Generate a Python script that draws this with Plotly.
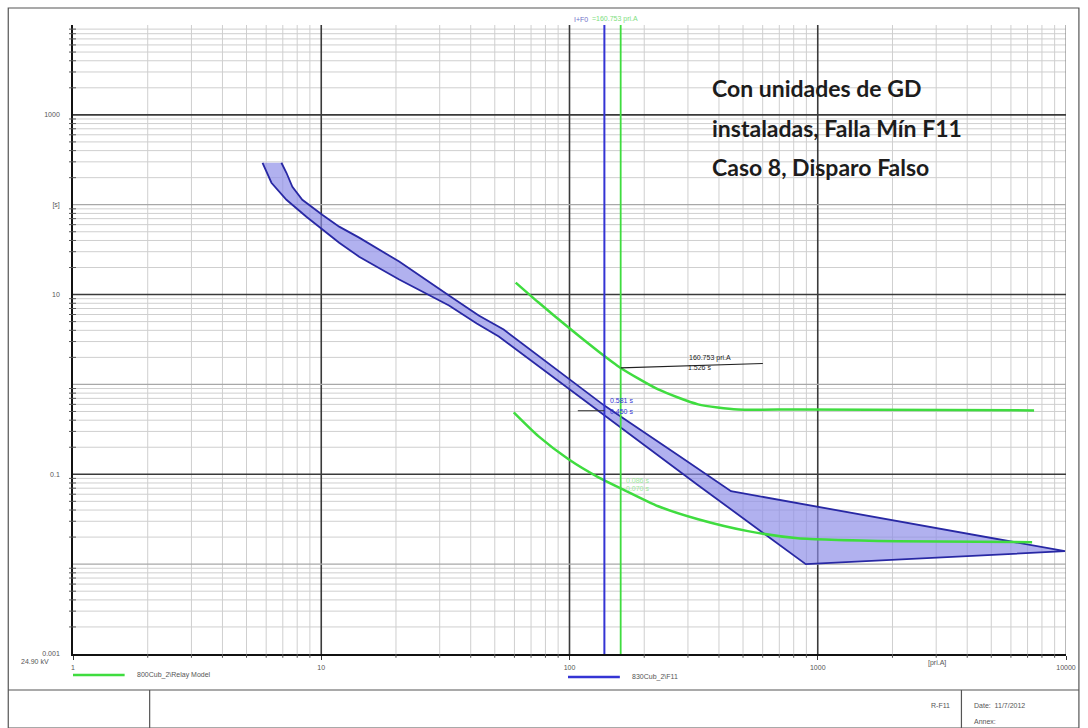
import math
import plotly.graph_objects as go

# ---- relay ZF11 operating band: current [pri.A] / time [s] ----
band_upper_i = [6.91, 7.24, 7.65, 8.39, 10.09, 11.81, 14.21, 20.6, 32.7, 43.1, 54.3, 90.3, 138.2, 274.0, 447.3, 9909.0]
band_upper_t = [292.9, 226.8, 158.5, 113.6, 77.4, 57.0, 43.0, 23.3, 9.75, 5.85, 4.08, 1.394, 0.581, 0.1626, 0.0648, 0.01394]
band_lower_i = [5.80, 6.30, 7.24, 8.71, 10.09, 11.81, 14.21, 20.6, 32.7, 42.3, 51.9, 90.3, 138.2, 329.6, 894.7, 9909.0]
band_lower_t = [292.9, 175.6, 113.6, 73.6, 52.8, 37.8, 26.4, 14.7, 7.55, 4.76, 3.41, 1.08, 0.450, 0.0755, 0.0100, 0.01394]

# ---- relay model curves (800Cub_2) ----
relay_hi_i = [60.7, 75.1, 99.1, 130.8, 160.753, 227.7, 329.6, 477.0, 831.0, 7437.0]
relay_hi_t = [13.6, 8.15, 4.30, 2.33, 1.526, 0.880, 0.600, 0.527, 0.527, 0.514]
relay_lo_i = [59.6, 75.1, 99.1, 130.8, 160.753, 227.7, 329.6, 523.5, 831.0, 2096.0, 7302.0]
relay_lo_t = [0.489, 0.264, 0.147, 0.0926, 0.0699, 0.0441, 0.0316, 0.0233, 0.01945, 0.0180, 0.01756]

# fault currents seen by each device
i_blue = 138.2
i_green = 160.753

# tripping times read at the fault currents
t_green_hi = 1.526
t_blue_hi = 0.581
t_blue_lo = 0.450
t_green_lo_blue = 0.086
t_green_lo = 0.070

# axis labels
x_tickvals = [1, 10, 100, 1000, 10000]
x_ticktext = ["1", "10", "100", "1000", "10000"]
y_tickvals = [0.001, 0.1, 10, 100, 1000]
y_ticktext = ["0.001", "0.1", "10", "[s]", "1000"]

BLUE = "#3434d4"
BLUE_EDGE = "#2828a4"
BAND_FILL = "rgba(140,140,232,0.68)"
GREEN = "#3fdc3f"
FONT = "Liberation Sans, Arial"
SMALL = dict(family=FONT, size=7, color="#555555")
L = math.log10  # annotations on log axes take log10 positions

fig = go.Figure()

# ---- grid ----
shapes = []
for d in range(0, 4):
    for k in range(2, 10):
        xv = k * 10 ** d
        shapes.append(dict(type="line", xref="x", yref="paper", x0=xv, x1=xv, y0=0, y1=1,
                           line=dict(color="#cfcfcf", width=1), layer="below"))
        shapes.append(dict(type="line", xref="x", yref="paper", x0=xv, x1=xv, y0=0, y1=-0.006,
                           line=dict(color="#555555", width=1)))
for d in range(-3, 4):
    for k in range(2, 10):
        yv = k * 10.0 ** d
        shapes.append(dict(type="line", xref="paper", yref="y", x0=0, x1=1, y0=yv, y1=yv,
                           line=dict(color="#cfcfcf", width=1), layer="below"))
        shapes.append(dict(type="line", xref="paper", yref="y", x0=-0.004, x1=0.003, y0=yv, y1=yv,
                           line=dict(color="#555555", width=1)))
for xv in [10, 100, 1000]:
    shapes.append(dict(type="line", xref="x", yref="paper", x0=xv, x1=xv, y0=0, y1=1,
                       line=dict(color="#3a3a3a", width=1.6), layer="below"))
shapes.append(dict(type="line", xref="x", yref="paper", x0=10000, x1=10000, y0=0, y1=1,
                   line=dict(color="#8a8a8a", width=1.2), layer="below"))
for yv in [1000, 10, 0.1]:
    shapes.append(dict(type="line", xref="paper", yref="y", x0=0, x1=1, y0=yv, y1=yv,
                       line=dict(color="#3a3a3a", width=1.6), layer="below"))
for yv in [100, 1, 0.01]:
    shapes.append(dict(type="line", xref="paper", yref="y", x0=0, x1=1, y0=yv, y1=yv,
                       line=dict(color="#a8a8a8", width=1.2), layer="below"))

# ---- page frame and title block ----
frame = dict(color="#555555", width=1.2)
shapes += [
    dict(type="rect", xref="paper", yref="paper", x0=-0.0652, x1=1.013, y0=-0.118, y1=1.027, line=frame),
    dict(type="line", xref="paper", yref="paper", x0=-0.0652, x1=1.013, y0=-0.0572, y1=-0.0572, line=frame),
    dict(type="line", xref="paper", yref="paper", x0=0.0772, x1=0.0772, y0=-0.0572, y1=-0.118, line=frame),
    dict(type="line", xref="paper", yref="paper", x0=0.8947, x1=0.8947, y0=-0.0572, y1=-0.118, line=frame),
]

# ---- legend marks ----
shapes += [
    dict(type="line", xref="paper", yref="paper", x0=0.0, x1=0.052, y0=-0.0334, y1=-0.0334,
         line=dict(color=GREEN, width=2.5)),
    dict(type="line", xref="paper", yref="paper", x0=0.4985, x1=0.5507, y0=-0.0366, y1=-0.0366,
         line=dict(color=BLUE, width=2.5)),
]

# ---- pointer lines for the read-outs ----
shapes += [
    dict(type="line", xref="x", yref="y", x0=i_green, x1=601, y0=t_green_hi, y1=1.71,
         line=dict(color="#222222", width=1.2)),
    dict(type="line", xref="x", yref="y", x0=108, x1=i_blue, y0=0.51, y1=0.51,
         line=dict(color="#333333", width=1)),
]

# ---- ZF11 band ----
band_x = band_upper_i + band_lower_i[::-1]
band_y = band_upper_t + band_lower_t[::-1]
fig.add_trace(go.Scatter(x=band_x, y=band_y, mode="lines", fill="toself", fillcolor=BAND_FILL,
                         line=dict(color=BLUE_EDGE, width=1.8), hoverinfo="skip", showlegend=False))

# ---- relay model curves ----
for xs, ys in [(relay_hi_i, relay_hi_t), (relay_lo_i, relay_lo_t)]:
    fig.add_trace(go.Scatter(x=xs, y=ys, mode="lines",
                             line=dict(color=GREEN, width=2.5, shape="spline", smoothing=0.6),
                             showlegend=False))

# ---- fault current verticals ----
fig.add_trace(go.Scatter(x=[i_blue, i_blue], y=[0.001, 10000], mode="lines",
                         line=dict(color=BLUE, width=2), showlegend=False, cliponaxis=False))
fig.add_trace(go.Scatter(x=[i_green, i_green], y=[0.001, 10000], mode="lines",
                         line=dict(color=GREEN, width=1.8), showlegend=False, cliponaxis=False))

ann = []
# title text
title_lines = ["Con unidades de GD", "instaladas, Falla Mín F11", "Caso 8, Disparo Falso"]
title_y = [0.8998, 0.8362, 0.7742]
for txt, yy in zip(title_lines, title_y):
    ann.append(dict(text=txt, xref="paper", yref="paper", x=0.641, y=yy, xanchor="left", yanchor="middle",
                    showarrow=False, font=dict(family="Lato", size=23, color="#1c1c1c", weight="bold")))

# read-outs
ann += [
    dict(text=f"{i_green:.3f} pri.A", xref="x", yref="y", x=2.566, y=L(1.71), showarrow=False,
         xanchor="center", yanchor="bottom", yshift=-1, font=dict(family=FONT, size=7, color="#222222")),
    dict(text=f"{t_green_hi:.3f} s", xref="x", yref="y", x=2.522, y=L(1.71), showarrow=False,
         xanchor="center", yanchor="top", yshift=1, font=dict(family=FONT, size=7, color="#222222")),
    dict(text=f"{t_blue_hi:.3f} s", xref="x", yref="y", x=L(i_blue), y=L(t_blue_hi), showarrow=False,
         xanchor="left", yanchor="bottom", xshift=4, font=dict(family=FONT, size=7, color=BLUE)),
    dict(text=f"{t_blue_lo:.3f} s", xref="x", yref="y", x=L(i_blue), y=L(t_blue_hi), showarrow=False,
         xanchor="left", yanchor="top", xshift=4, font=dict(family=FONT, size=7, color=BLUE)),
    dict(text=f"{t_green_lo_blue:.3f} s", xref="x", yref="y", x=L(i_green), y=L(t_green_lo_blue), showarrow=False,
         xanchor="left", yanchor="middle", xshift=3, font=dict(family=FONT, size=7, color="#9be89b")),
    dict(text=f"{t_green_lo:.3f} s", xref="x", yref="y", x=L(i_green), y=L(t_green_lo), showarrow=False,
         xanchor="left", yanchor="middle", xshift=3, font=dict(family=FONT, size=7, color="#9be89b")),
]

# current labels above the plot
ann += [
    dict(text="I+F0", xref="x", yref="paper", x=L(i_green), y=1.0, xshift=-31, xanchor="right", yanchor="bottom",
         showarrow=False, font=dict(family=FONT, size=7, color="#6f6fc8")),
    dict(text=f"={i_green:.3f} pri.A", xref="x", yref="paper", x=L(i_green), y=1.0, xshift=-31, xanchor="left",
         yanchor="bottom", showarrow=False, font=dict(family=FONT, size=7, color="#7ee07e")),
]

# axis extras, legend text and title block
ann += [
    dict(text="24.90 kV", xref="paper", yref="paper", x=-0.022, y=-0.012, xanchor="right", yanchor="middle",
         showarrow=False, font=SMALL),
    dict(text="[pri.A]", xref="x", yref="paper", x=L(3034), y=-0.014, xanchor="center", yanchor="middle",
         showarrow=False, font=SMALL),
    dict(text="800Cub_2\\Relay Model", xref="paper", yref="paper", x=0.062, y=-0.0334, xanchor="left",
         yanchor="middle", showarrow=False, font=SMALL),
    dict(text="830Cub_2\\F11", xref="paper", yref="paper", x=0.5607, y=-0.0366, xanchor="left",
         yanchor="middle", showarrow=False, font=SMALL),
    dict(text="R-F11", xref="paper", yref="paper", x=0.885, y=-0.0811, xanchor="right", yanchor="middle",
         showarrow=False, font=SMALL),
    dict(text="Date:  11/7/2012", xref="paper", yref="paper", x=0.905, y=-0.0811, xanchor="left",
         yanchor="middle", showarrow=False, font=SMALL),
    dict(text="Annex:", xref="paper", yref="paper", x=0.905, y=-0.1081, xanchor="left", yanchor="middle",
         showarrow=False, font=SMALL),
]

fig.update_layout(
    width=1088, height=728,
    margin=dict(l=73, r=18, t=25, b=74),
    paper_bgcolor="white", plot_bgcolor="white",
    shapes=shapes, annotations=ann, showlegend=False,
    xaxis=dict(type="log", range=[0, 4], showgrid=False, zeroline=False,
               showline=True, linecolor="#111111", linewidth=1.6,
               tickvals=x_tickvals, ticktext=x_ticktext, ticks="outside", ticklen=4, tickcolor="#333333",
               tickfont=SMALL, ticklabelstandoff=2),
    yaxis=dict(type="log", range=[-3, 4], showgrid=False, zeroline=False,
               showline=True, linecolor="#111111", linewidth=1.6,
               tickvals=y_tickvals, ticktext=y_ticktext, ticks="", tickfont=SMALL, ticklabelstandoff=10),
)

fig.write_html("out.html")
